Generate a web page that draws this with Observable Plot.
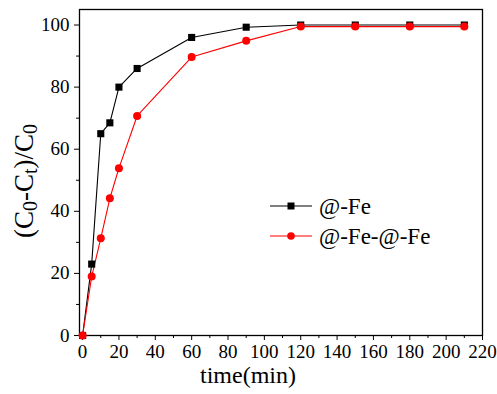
<!DOCTYPE html>
<html>
<head>
<meta charset="utf-8">
<script src="https://cdn.jsdelivr.net/npm/d3@7"></script>
<script src="https://cdn.jsdelivr.net/npm/@observablehq/plot@0.6"></script>
<style>
  html, body { margin: 0; padding: 0; background: white; }
</style>
</head>
<body>
<div id="chart"></div>
<script>
const times = [0, 5, 10, 15, 20, 30, 60, 90, 120, 150, 180, 210];
const seriesNames = ["@-Fe", "@-Fe-@-Fe"];
const feValues = [0, 23, 65, 68.5, 80, 86, 96, 99.3, 100, 100, 100, 100];
const feFeValues = [0, 19, 31.3, 44.2, 53.9, 70.7, 89.7, 94.9, 99.5, 99.5, 99.5, 99.5];
const xMajorTicks = [0, 20, 40, 60, 80, 100, 120, 140, 160, 180, 200, 220];
const xMinorTicks = [10, 30, 50, 70, 90, 110, 130, 150, 170, 190, 210];
const yMajorTicks = [0, 20, 40, 60, 80, 100];
const yMinorTicks = [10, 30, 50, 70, 90];
const xTitle = "time(min)";
const colors = ["black", "red"];
const symbols = ["square", "circle"];

const data = [];
times.forEach((t, i) => data.push({t, v: feValues[i], series: seriesNames[0]}));
times.forEach((t, i) => data.push({t, v: feFeValues[i], series: seriesNames[1]}));

const font = "Liberation Serif";

const chart = Plot.plot({
  width: 497,
  height: 394,
  marginLeft: 79,
  marginRight: 15,
  marginTop: 9,
  marginBottom: 59,
  style: {fontFamily: font, fontSize: "19px", color: "black", background: "white"},
  x: {domain: [-1.7, 220]},
  y: {domain: [0, 105]},
  color: {domain: seriesNames, range: colors},
  symbol: {domain: seriesNames, range: symbols},
  marks: [
    Plot.axisX({ticks: xMajorTicks, tickSize: 5, tickPadding: 4, label: null, fontSize: 19}),
    Plot.axisX({ticks: xMinorTicks, tickSize: 3, tickFormat: () => "", label: null}),
    Plot.axisY({ticks: yMajorTicks, tickSize: 5, tickPadding: 5, label: null, fontSize: 19}),
    Plot.axisY({ticks: yMinorTicks, tickSize: 3, tickFormat: () => "", label: null}),
    Plot.frame({stroke: "black", strokeWidth: 1.3}),
    Plot.line(data, {x: "t", y: "v", z: "series", stroke: "series", strokeWidth: 1.1}),
    Plot.dot(data, {x: "t", y: "v", symbol: "series", fill: "series", stroke: "none", r: 4}),
    Plot.text([xTitle], {text: d => d, frameAnchor: "bottom", dx: -33, dy: 47, fontSize: 24, textAnchor: "middle"})
  ]
});
document.getElementById("chart").appendChild(chart);

const svg = d3.select(chart);
svg.attr("font-family", font);

// Y axis label with subscripts
const yl = svg.append("text")
  .attr("transform", "translate(33,181) rotate(-90)")
  .attr("text-anchor", "middle")
  .attr("font-size", 27)
  .attr("fill", "black");
const parts = [["(C", false], ["0", true], ["-C", false], ["t", true], [")/C", false], ["0", true]];
let shifted = false;
parts.forEach(([s, sub]) => {
  const ts = yl.append("tspan").text(s);
  if (sub) { ts.attr("font-size", 20).attr("dy", shifted ? 0 : 4); shifted = true; }
  else { if (shifted) ts.attr("dy", -4); shifted = false; }
});

// Legend
const legend = svg.append("g").attr("font-size", 23).attr("text-anchor", "start");
seriesNames.forEach((name, i) => {
  const y = 206 + i * 30;
  const g = legend.append("g").attr("transform", `translate(270,${y})`);
  g.append("line").attr("x1", 0).attr("x2", 42).attr("y1", 0).attr("y2", 0)
    .attr("stroke", colors[i]).attr("stroke-width", 1.1);
  if (symbols[i] === "square") {
    g.append("rect").attr("x", 21 - 3.5).attr("y", -3.5).attr("width", 7).attr("height", 7).attr("fill", colors[i]);
  } else {
    g.append("circle").attr("cx", 21).attr("cy", 0).attr("r", 3.8).attr("fill", colors[i]);
  }
  g.append("text").attr("x", 49).attr("y", 0).attr("dy", "0.35em").attr("fill", "black").text(name);
});

// force serif font on every text, including axis tick labels
svg.selectAll("text, tspan")
  .style("font-family", "'Liberation Serif', serif")
  .style("font-variant", "normal")
  .style("font-weight", "normal");
</script>
</body>
</html>
